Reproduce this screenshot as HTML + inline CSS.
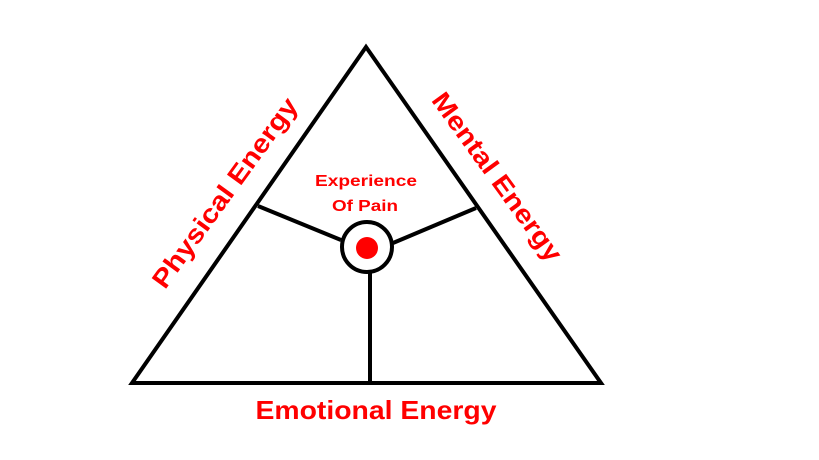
<!DOCTYPE html>
<html><head><meta charset="utf-8"><style>html,body{margin:0;padding:0;background:#fff;}svg{display:block}</style></head>
<body>
<svg width="819" height="460" viewBox="0 0 819 460" xmlns="http://www.w3.org/2000/svg">
<rect width="819" height="460" fill="#fff"/>
<polygon points="366,47 132,383 601,383" fill="none" stroke="#000" stroke-width="4" stroke-linejoin="miter"/>
<line x1="258" y1="206" x2="341" y2="240" stroke="#000" stroke-width="4"/>
<line x1="476" y1="208" x2="393" y2="243" stroke="#000" stroke-width="4"/>
<line x1="370" y1="273" x2="370" y2="383" stroke="#000" stroke-width="4"/>
<circle cx="367" cy="247" r="25" fill="#fff" stroke="#000" stroke-width="4"/>
<circle cx="367" cy="248" r="11" fill="#f00"/>
<g font-family="Liberation Sans, Arial, sans-serif" font-weight="bold" fill="#f00" text-anchor="middle">
<text x="366" y="186" font-size="16" textLength="102" lengthAdjust="spacingAndGlyphs">Experience</text>
<text x="365" y="211" font-size="16" textLength="66" lengthAdjust="spacingAndGlyphs">Of Pain</text>
<text x="376" y="419" font-size="26" textLength="241" lengthAdjust="spacingAndGlyphs">Emotional Energy</text>
<text transform="translate(232,198) rotate(-54)" font-size="26" textLength="228" lengthAdjust="spacingAndGlyphs">Physical Energy</text>
<text transform="translate(490,182) rotate(54)" font-size="26" textLength="202" lengthAdjust="spacingAndGlyphs">Mental Energy</text>
</g>
</svg>
</body></html>
